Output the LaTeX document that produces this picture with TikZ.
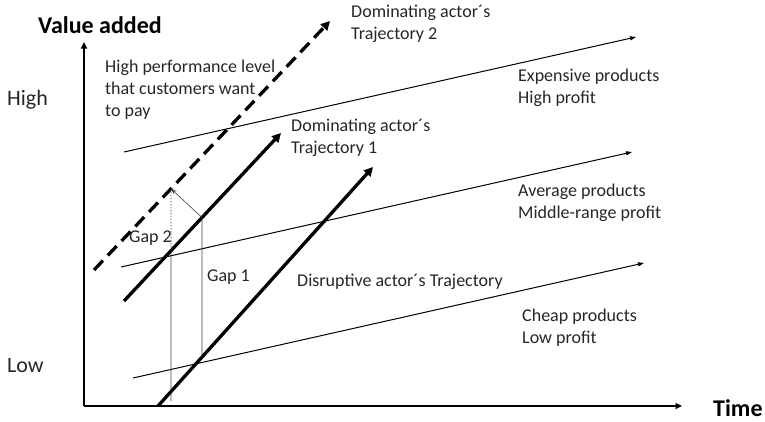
\documentclass[tikz,border=0pt]{standalone}
\usepackage{fontspec}
\setmainfont{Carlito}
\usetikzlibrary{arrows.meta,calc}

\tikzset{
  axis/.style={line width=2.6pt, -{Triangle[length=6.5pt,width=6pt]}},
  level/.style={line width=1pt, -{Triangle[length=6pt,width=4pt]}},
  traj/.style={line width=3.3pt, -{Triangle[length=9pt,width=9pt]}},
  trajdash/.style={traj, dash pattern=on 13pt off 7pt},
  gapline/.style={line width=0.6pt, black!75},
  gapdot/.style={gapline, dash pattern=on 1.5pt off 1.5pt},
  gaparrow/.style={line width=0.6pt, black!75, -{Stealth[length=6pt,width=4pt]}},
  lbl/.style={inner sep=0pt, anchor=west, align=left, text=black!85, font=\fontsize{18}{22}\selectfont},
  axlbl/.style={inner sep=0pt, anchor=west, text=black!85, font=\fontsize{22}{26}\selectfont},
  axtitle/.style={inner sep=0pt, anchor=west, font=\fontsize{24}{28}\selectfont\bfseries}
}

\begin{document}
\begin{tikzpicture}[x=1pt, y=-1pt]
  \useasboundingbox (0,0) rectangle (765,421);

  % axes
  \coordinate (O) at (84,406);
  \coordinate (ytop) at (84,42);
  \coordinate (xend) at (682,406);
  \draw[axis] (O) -- (ytop);
  \draw[axis] (O) -- (xend);

  % price / profit levels
  \coordinate (exS) at (124,152);  \coordinate (exE) at (636,37);
  \coordinate (avS) at (121,267);  \coordinate (avE) at (632,152);
  \coordinate (chS) at (133,378);  \coordinate (chE) at (644,263);
  \draw[level] (exS) -- (exE);
  \draw[level] (avS) -- (avE);
  \draw[level] (chS) -- (chE);

  % trajectories
  \coordinate (t2S) at (94,270);   \coordinate (t2E) at (330,21);
  \coordinate (t1S) at (124,301);  \coordinate (t1E) at (281,133);
  \coordinate (dS)  at (158,406);  \coordinate (dE)  at (373,167);
  \draw[trajdash] (t2S) -- (t2E);
  \draw[traj] (t1S) -- (t1E);
  \draw[traj] (dS) -- (dE);

  % gap markers
  \coordinate (gA) at ($(t1S)!{(171-124)/(281-124)}!(t1E)$);
  \coordinate (gB) at ($(t2S)!{(171-94)/(330-94)}!(t2E)$);
  \coordinate (gC) at ($(t1S)!{(202-124)/(281-124)}!(t1E)$);
  \coordinate (gD) at ($(dS)!{(202-158)/(373-158)}!(dE)$);
  \coordinate (gBot) at (171,401);
  \draw[gapdot] (gB) -- (gA);
  \draw[gapline] (gA) -- (gBot);
  \draw[gapline] (gC) -- (gD);
  \draw[gaparrow] (gC) -- (gB);

  % labels
  \node[axtitle] (vadd) at (38,25) {Value added};
  \node[axtitle] (time) at (713,408) {Time};
  \node[axlbl] (high) at (7,100) {High};
  \node[axlbl] (low) at (7,366) {Low};

  \node[lbl] (hpl) at (105,90) {High performance level\\that customers want\\to pay};
  \node[lbl] (tr2) at (351,24) {Dominating actor´s\\Trajectory 2};
  \node[lbl] (exp) at (518,88) {Expensive products\\High profit};
  \node[lbl] (tr1) at (291,138) {Dominating actor´s\\Trajectory 1};
  \node[lbl] (avg) at (518,203) {Average products\\Middle-range profit};
  \node[lbl] (dis) at (297,282) {Disruptive actor´s Trajectory};
  \node[lbl] (chp) at (522,328) {Cheap products\\Low profit};
  \node[lbl] (gap2) at (129,238) {Gap 2};
  \node[lbl] (gap1) at (207,277) {Gap 1};
\end{tikzpicture}
\end{document}
